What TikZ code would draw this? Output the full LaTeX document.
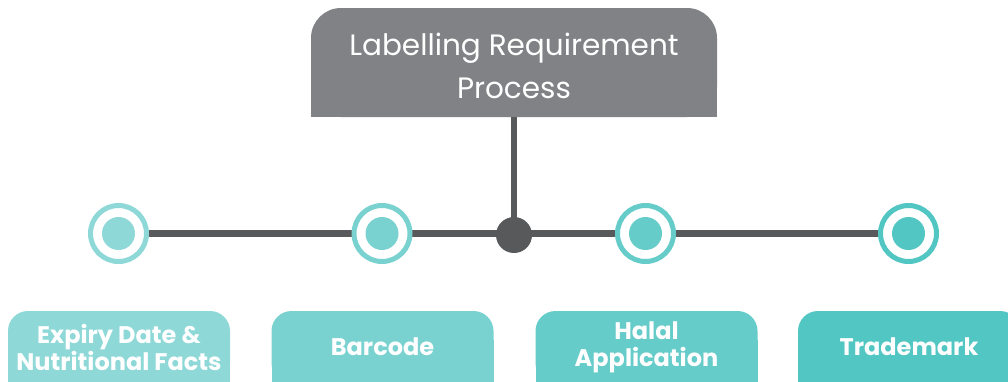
\documentclass[tikz,border=0pt]{standalone}
\usepackage{fontspec}
\setmainfont{Poppins}
\definecolor{hdr}{HTML}{808285}
\definecolor{ln}{HTML}{58595B}
\definecolor{cA}{HTML}{8ED8D8}
\definecolor{cB}{HTML}{7AD2D0}
\definecolor{cC}{HTML}{66CCC9}
\definecolor{cD}{HTML}{52C6C3}
\begin{document}
\begin{tikzpicture}[x=1pt,y=-1pt,
  conn/.style={draw=ln,line width=6.5pt},
  ring/.style={circle,draw=#1,line width=5pt,fill=white,minimum size=56pt,inner sep=0pt},
  dot/.style={circle,fill=#1,minimum size=33pt,inner sep=0pt},
  catbox/.style={rectangle,rounded corners=20pt,fill=#1,minimum width=222pt,minimum height=72pt,
    inner sep=0pt,text=white,align=center,font=\bfseries\fontsize{24}{27}\selectfont}]
\useasboundingbox (0,0) rectangle (1008,381);
\clip (0,0) rectangle (1008,381);
% header
\fill[hdr] (311,62.5) rectangle (717,117);
\node[rectangle,rounded corners=30pt,fill=hdr,minimum width=406pt,minimum height=109pt,inner sep=0pt,
  label={[name=toptext,text=white,align=center,font=\fontsize{29.5}{43}\selectfont,yshift=-3pt]center:Labelling Requirement\\Process}]
  (top) at (514,62.5) {};
% junction and rings
\coordinate (jc) at (514,233.5);
\coordinate (r1) at (118.5,233.5);
\coordinate (r2) at (382,233.5);
\coordinate (r3) at (645.5,233.5);
\coordinate (r4) at (908.5,233.5);
\draw[conn] (top.south) -- (jc);
\draw[conn] (r1) -- (r2);
\draw[conn] (r2) -- (jc);
\draw[conn] (jc) -- (r3);
\draw[conn] (r3) -- (r4);
\node[circle,fill=ln,minimum size=36pt,inner sep=0pt] (j) at (514,235) {};
\node[ring=cA] (o1) at (r1) {};
\node[ring=cB] (o2) at (r2) {};
\node[ring=cC] (o3) at (r3) {};
\node[ring=cD] (o4) at (r4) {};
\node[dot=cA] (i1) at (r1) {};
\node[dot=cB] (i2) at (r2) {};
\node[dot=cC] (i3) at (r3) {};
\node[dot=cD] (i4) at (r4) {};
% boxes
\foreach \n/\x/\c/\t in {b1/119/cA/{Expiry Date \&\\Nutritional Facts},
  b2/382.5/cB/{Barcode}, b3/646.5/cC/{Halal\\Application}, b4/909/cD/{Trademark}}{
  \fill[\c] (\x-111,340) rectangle (\x+111,400);
  \node[catbox=\c] (\n) at (\x,347) {\t};
}
\end{tikzpicture}
\end{document}
